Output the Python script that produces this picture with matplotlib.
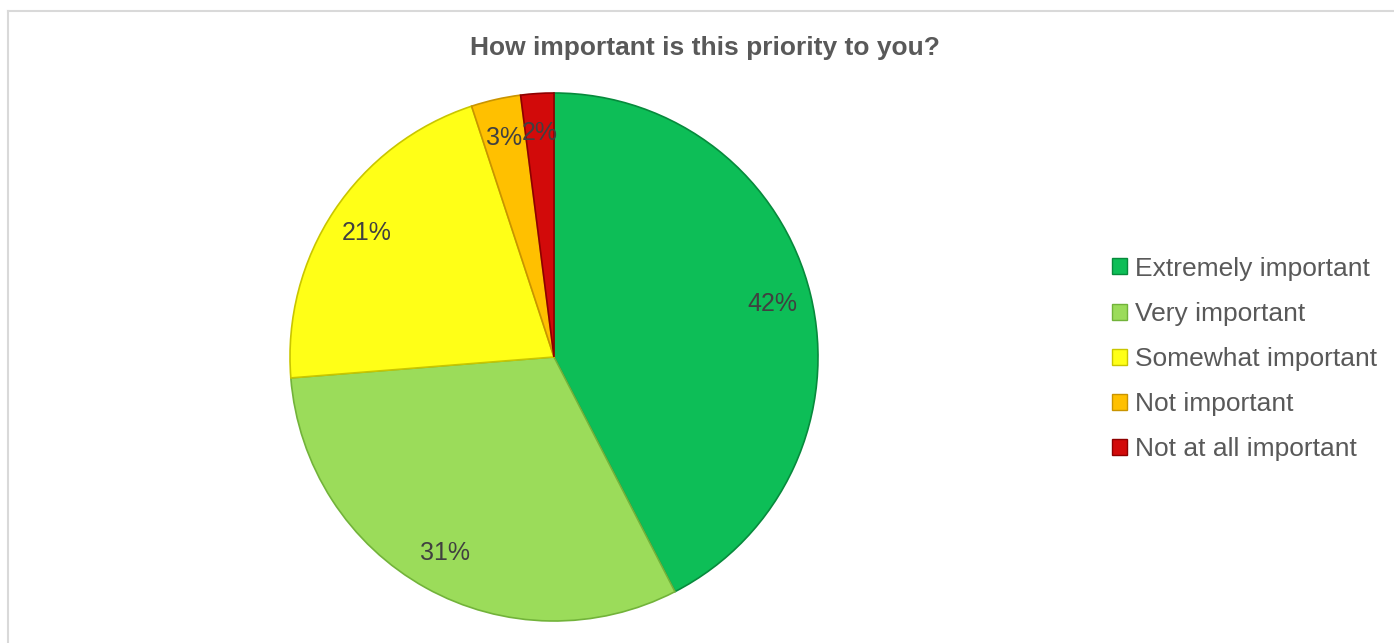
import matplotlib
matplotlib.use("Agg")
import matplotlib.pyplot as plt
from matplotlib.patches import Patch
from matplotlib.lines import Line2D

plt.rcParams['font.family'] = ['Liberation Sans', 'DejaVu Sans']

title = "How important is this priority to you?"
categories = ["Extremely important", "Very important", "Somewhat important",
              "Not important", "Not at all important"]
values = [42, 31, 21, 3, 2]
colors = ["#0DBE57", "#9BDC5A", "#FFFF17", "#FFC000", "#D20A0A"]
edge_colors = ["#078A3C", "#72B33A", "#C9C600", "#C99400", "#8E0000"]

W, H = 1394, 643
fig = plt.figure(figsize=(W / 100, H / 100), dpi=100)

# light gray frame (top and left visible)
fig.add_artist(Line2D([8 / W, 1.0], [1 - 10.5 / H, 1 - 10.5 / H], color="#D9D9D9", lw=1.5,
                      transform=fig.transFigure))
fig.add_artist(Line2D([8 / W, 8 / W], [0, 1 - 10.5 / H], color="#D9D9D9", lw=1.5,
                      transform=fig.transFigure))

cx, cy, r = 554, 357, 264
ax = fig.add_axes([(cx - r) / W, (H - cy - r) / H, 2 * r / W, 2 * r / H])
total = sum(values)
wedges, texts, autotexts = ax.pie(
    values, colors=colors, startangle=90, counterclock=False,
    autopct=lambda p: f"{round(p * total / 100)}%", pctdistance=0.85,
    textprops=dict(fontsize=18, color="#404040"),
    wedgeprops=dict(linewidth=1.2),
)
for w, ec in zip(wedges, edge_colors):
    w.set_edgecolor(ec)
ax.set_xlim(-1, 1)
ax.set_ylim(-1, 1)
ax.set_aspect("equal")
ax.axis("off")

fig.text(705 / W, 1 - 48 / H, title, ha="center", va="center", fontsize=19,
         fontweight="bold", color="#595959")

handles = [Patch(facecolor=c, edgecolor=ec, linewidth=1) for c, ec in zip(colors, edge_colors)]
leg = fig.legend(handles, categories, loc="center left",
                 bbox_to_anchor=(1099 / W, 1 - 359 / H), frameon=False,
                 fontsize=19, labelcolor="#595959", handlelength=0.55, handleheight=0.55,
                 handletextpad=0.3, labelspacing=0.8, borderpad=0)

fig.savefig("out.png", dpi=100)
